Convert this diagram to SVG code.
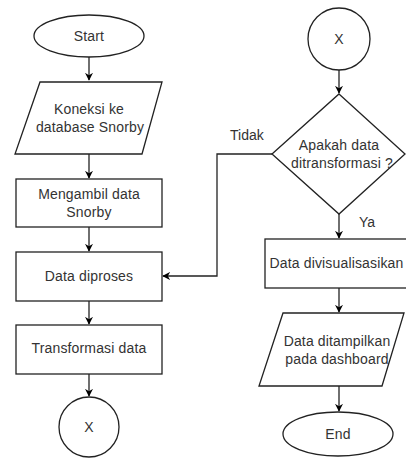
<svg xmlns="http://www.w3.org/2000/svg" width="406" height="459" viewBox="0 0 406 459">
<defs>
<style>
.s{fill:#fff;stroke:#222;stroke-width:1.3}
.t{font-family:"Liberation Sans",Arial,sans-serif;font-size:14px;fill:#333;text-anchor:middle;letter-spacing:0.15px}
.l{font-family:"Liberation Sans",Arial,sans-serif;font-size:14px;fill:#333}
.c{fill:none;stroke:#222;stroke-width:1.3}
</style>
<marker id="a" viewBox="0 0 10 10" refX="9" refY="5" markerWidth="8" markerHeight="8" markerUnits="userSpaceOnUse" orient="auto">
<path d="M0,0 L10,5 L0,10 L3,5 Z" fill="#000"/>
</marker>
</defs>
<rect width="406" height="459" fill="#fff"/>
<g id="connectors">
<path class="c" d="M89,57 V80" marker-end="url(#a)"/>
<path class="c" d="M89,154 V178" marker-end="url(#a)"/>
<path class="c" d="M89,227 V251" marker-end="url(#a)"/>
<path class="c" d="M89,301 V324" marker-end="url(#a)"/>
<path class="c" d="M89,374 V396" marker-end="url(#a)"/>
<path class="c" d="M339,70 V93" marker-end="url(#a)"/>
<path class="c" d="M272,154 H217 V276 H163" marker-end="url(#a)"/>
<path class="c" d="M339,214 V238" marker-end="url(#a)"/>
<path class="c" d="M339,288 V312" marker-end="url(#a)"/>
<path class="c" d="M339,386 V411" marker-end="url(#a)"/>
<text class="l" x="230" y="140">Tidak</text>
<text class="l" x="359" y="227">Ya</text>
</g>
<g id="start">
<ellipse class="s" cx="89" cy="36" rx="55" ry="21"/>
<text class="t" x="89" y="41">Start</text>
</g>
<g id="koneksi">
<polygon class="s" points="40,82 162,82 142,154 15,154"/>
<text class="t" x="89" y="114">Koneksi ke</text>
<text class="t" x="90" y="132">database Snorby</text>
</g>
<g id="mengambil">
<rect class="s" x="16" y="179" width="146" height="48"/>
<text class="t" x="89" y="199">Mengambil data</text>
<text class="t" x="89" y="217">Snorby</text>
</g>
<g id="diproses">
<rect class="s" x="16" y="252" width="146" height="49"/>
<text class="t" x="89" y="281">Data diproses</text>
</g>
<g id="transformasi">
<rect class="s" x="16" y="325" width="146" height="49"/>
<text class="t" x="89" y="353">Transformasi data</text>
</g>
<g id="x-left">
<circle class="s" cx="89" cy="427" r="30"/>
<text class="t" x="89" y="432">X</text>
</g>
<g id="x-right">
<circle class="s" cx="339" cy="39" r="31"/>
<text class="t" x="339" y="44">X</text>
</g>
<g id="decision">
<polygon class="s" points="339,94 405,154 339,214 272,154"/>
<text class="t" x="339" y="150">Apakah data</text>
<text class="t" x="342" y="168">ditransformasi ?</text>
</g>
<g id="visualisasi">
<rect class="s" x="265" y="239" width="146" height="49"/>
<text class="t" x="336.5" y="268" textLength="134" lengthAdjust="spacing">Data divisualisasikan</text>
</g>
<g id="tampilkan">
<polygon class="s" points="283,313 404,313 382,386 259,386"/>
<text class="t" x="337" y="346">Data ditampilkan</text>
<text class="t" x="337" y="364">pada dashboard</text>
</g>
<g id="end">
<ellipse class="s" cx="338" cy="434" rx="55" ry="22"/>
<text class="t" x="338" y="439">End</text>
</g>
</svg>
